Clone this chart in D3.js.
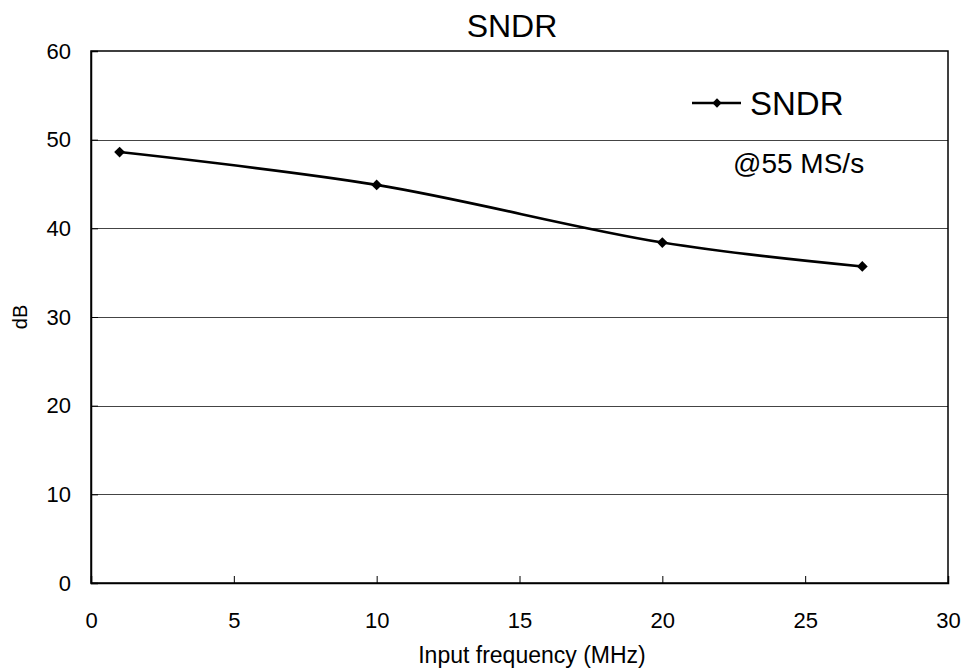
<!DOCTYPE html>
<html>
<head>
<meta charset="utf-8">
<script src="https://cdn.jsdelivr.net/npm/d3@7"></script>
<style>
  body { margin: 0; background: #fff; }
  text { font-family: "Liberation Sans", Arial, sans-serif; fill: #000; }
</style>
</head>
<body>
<div id="chart"></div>
<script>
/**
 * DATA
 * */
const freqs = [1, 10, 20, 27];            // MHz
const sndr = [48.6, 44.9, 38.4, 35.7];    // dB
const xTicks = [0, 5, 10, 15, 20, 25, 30];
const yTicks = [0, 10, 20, 30, 40, 50, 60];

/**
 * CONSTANTS
 * */
const width = 966,
  height = 668,
  margin = { top: 51, bottom: 85, left: 91, right: 18 };

const svg = d3.select("#chart")
  .append("svg")
  .attr("width", width)
  .attr("height", height);

const xScale = d3.scaleLinear()
  .domain([0, 30])
  .range([margin.left, width - margin.right]);

const yScale = d3.scaleLinear()
  .domain([0, 60])
  .range([height - margin.bottom, margin.top]);

// grid lines
svg.append("g")
  .selectAll("line")
  .data(yTicks.filter(d => d > 0 && d < 60))
  .join("line")
  .attr("x1", xScale(0))
  .attr("x2", xScale(30))
  .attr("y1", d => Math.round(yScale(d)) + 0.5)
  .attr("y2", d => Math.round(yScale(d)) + 0.5)
  .attr("stroke", "#444")
  .attr("stroke-width", 1);

// plot border
svg.append("rect")
  .attr("x", xScale(0))
  .attr("y", yScale(60))
  .attr("width", xScale(30) - xScale(0))
  .attr("height", yScale(0) - yScale(60))
  .attr("fill", "none")
  .attr("stroke", "#000")
  .attr("stroke-width", 1.5);

// axes (ticks point inward)
const xAxis = d3.axisBottom(xScale)
  .tickValues(xTicks)
  .tickSize(-7)
  .tickPadding(16);

const yAxis = d3.axisLeft(yScale)
  .tickValues(yTicks)
  .tickSize(-7)
  .tickPadding(20);

const gx = svg.append("g")
  .attr("transform", `translate(0, ${yScale(0)})`)
  .call(xAxis);

const gy = svg.append("g")
  .attr("transform", `translate(${xScale(0)}, 0)`)
  .call(yAxis);

[gx, gy].forEach(g => {
  g.select(".domain").attr("stroke", "#000").attr("stroke-width", 1.5);
  g.selectAll(".tick line").attr("stroke", "#000");
  g.selectAll(".tick text")
    .style("font-family", "'Liberation Sans', Arial, sans-serif")
    .style("font-size", "22px")
    .attr("fill", "#000");
});
gx.selectAll(".tick text").attr("dy", "0.71em").attr("y", 29);

// series line (smoothed)
const points = freqs.map((f, i) => ({ x: f, y: sndr[i] }));

const line = d3.line()
  .x(d => xScale(d.x))
  .y(d => yScale(d.y))
  .curve(d3.curveCatmullRom.alpha(0.5));

svg.append("path")
  .datum(points)
  .attr("d", line)
  .attr("fill", "none")
  .attr("stroke", "#000")
  .attr("stroke-width", 2.6);

const diamond = d3.symbol().type(d3.symbolDiamond2).size(74);

svg.append("g")
  .selectAll("path")
  .data(points)
  .join("path")
  .attr("d", diamond)
  .attr("transform", d => `translate(${xScale(d.x)}, ${yScale(d.y)})`)
  .attr("fill", "#000");

// title
svg.append("text")
  .attr("x", 512)
  .attr("y", 37)
  .attr("text-anchor", "middle")
  .style("font-size", "32px")
  .text("SNDR");

// axis titles
svg.append("text")
  .attr("x", 532)
  .attr("y", 663)
  .attr("text-anchor", "middle")
  .style("font-size", "23px")
  .text("Input frequency (MHz)");

svg.append("text")
  .attr("transform", `translate(27, ${yScale(30)}) rotate(-90)`)
  .attr("text-anchor", "middle")
  .style("font-size", "20px")
  .text("dB");

// legend
const legend = svg.append("g").attr("transform", "translate(692, 103)");
legend.append("line")
  .attr("x1", 0)
  .attr("x2", 49)
  .attr("stroke", "#000")
  .attr("stroke-width", 2.6);
legend.append("path")
  .attr("d", d3.symbol().type(d3.symbolDiamond2).size(56))
  .attr("transform", "translate(25, 0)")
  .attr("fill", "#000");
legend.append("text")
  .attr("x", 58)
  .attr("y", 12)
  .style("font-size", "33px")
  .text("SNDR");

svg.append("text")
  .attr("x", 733)
  .attr("y", 173)
  .style("font-size", "28px")
  .text("@55 MS/s");
</script>
</body>
</html>
